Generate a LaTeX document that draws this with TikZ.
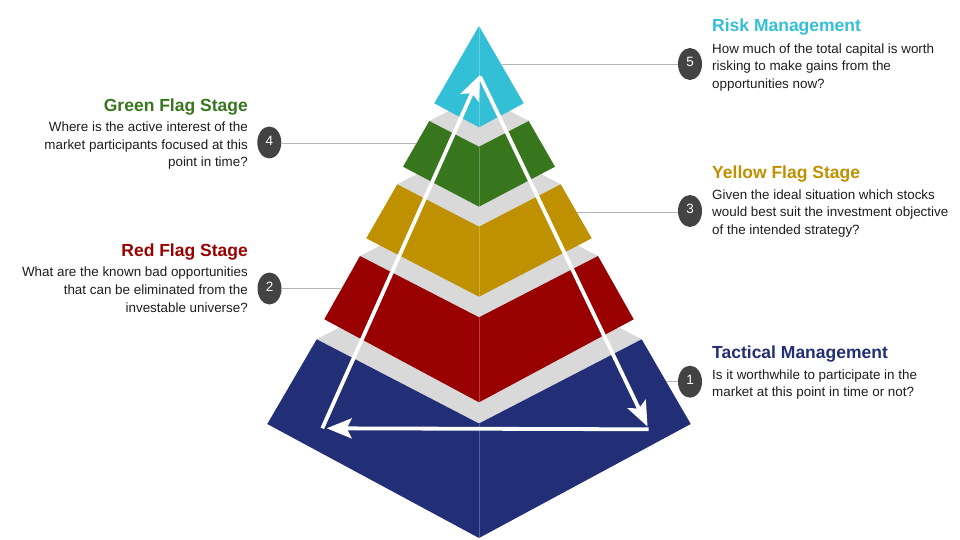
\documentclass[tikz,border=0pt]{standalone}
\usepackage{fontspec}
\setmainfont{Liberation Sans}
\usetikzlibrary{arrows.meta,shapes.geometric}
\definecolor{cCyan}{HTML}{33BFD5}
\definecolor{cGreen}{HTML}{38761D}
\definecolor{cGold}{HTML}{BF9000}
\definecolor{cRed}{HTML}{990000}
\definecolor{cBlue}{HTML}{222E75}
\definecolor{cGray}{HTML}{D9D9D9}
\definecolor{cBadge}{HTML}{434343}
\definecolor{cLine}{HTML}{B4B4B4}
\definecolor{cText}{HTML}{1E1E1E}
\begin{document}
\begin{tikzpicture}[x=1pt,y=-1pt,
  topface/.style={fill=cGray},
  seam/.style={draw=white, draw opacity=0.25, line width=0.6pt},
  warrow/.style={draw=white, line width=3.8pt, -{Stealth[length=25pt,width=20pt,inset=5pt]}},
  leader/.style={draw=cLine, line width=1pt},
  badge/.style={ellipse, fill=cBadge, minimum width=24pt, minimum height=32pt, inner sep=0pt, text=white, font=\fontsize{13.5}{13.5}\selectfont},
  heading/.style={font=\bfseries\fontsize{17.5}{20}\selectfont, inner sep=0pt},
  body/.style={font=\fontsize{13.4}{16}\selectfont, text=cText, inner sep=0pt},
  rhead/.style={heading, anchor=base west},
  rbody/.style={body, anchor=base west},
  lhead/.style={heading, anchor=base east},
  lbody/.style={body, anchor=base east}
]
\useasboundingbox (0,0) rectangle (960,540);
\fill[white] (0,0) rectangle (960,540);

% ---- blue layer (1)
\fill[topface] (316.7,339.3) -- (479,423.5) -- (641.7,339.3) -- (479,255.1) -- cycle;
\fill[cBlue] (316.7,339.3) -- (479,423.5) -- (641.7,339.3) -- (690.7,424) -- (479,538) -- (267.3,424) -- cycle;
\draw[seam] (479,423.5) -- (479,538);
% ---- red layer (2)
\fill[topface] (360,256) -- (479,317.3) -- (598,256) -- (479,194.7) -- cycle;
\fill[cRed] (360,256) -- (479,317.3) -- (598,256) -- (633.7,319.3) -- (479,402.3) -- (324.3,319.3) -- cycle;
\draw[seam] (479,317.3) -- (479,402.3);
% ---- yellow layer (3)
\fill[topface] (397.3,184.3) -- (479,226.7) -- (560.7,184.3) -- (479,141.9) -- cycle;
\fill[cGold] (397.3,184.3) -- (479,226.7) -- (560.7,184.3) -- (591.7,238.3) -- (479,296.7) -- (366.3,238.3) -- cycle;
\draw[seam] (479,226.7) -- (479,296.7);
% ---- green layer (4)
\fill[topface] (429.3,121) -- (479,146.7) -- (528.7,121) -- (479,95.3) -- cycle;
\fill[cGreen] (429.3,121) -- (479,146.7) -- (528.7,121) -- (555,166.7) -- (479,206.7) -- (403,166.7) -- cycle;
\draw[seam] (479,146.7) -- (479,206.7);
% ---- cyan top (5)
\fill[cCyan] (479,26) -- (523.7,103.3) -- (479,127.3) -- (434.3,103.3) -- cycle;
\draw[seam] (479,26) -- (479,127.3);

% ---- cycle arrows
\coordinate (aBL) at (322.3,428.3);
\coordinate (aTop) at (480,75);
\coordinate (aTopR) at (480,76.5);
\coordinate (aBR) at (647.5,426.5);
\coordinate (aBRs) at (648.5,429.3);
\coordinate (aBLe) at (326.7,428.3);
\draw[warrow] (aBL) -- (aTop);
\draw[warrow] (aTopR) -- (aBR);
\draw[warrow] (aBRs) -- (aBLe);

% ---- badges and leaders
\coordinate (e5) at (501.5,65);
\coordinate (e4) at (416,144);
\coordinate (e3) at (576.6,212.3);
\coordinate (e2) at (341.7,288.5);
\coordinate (e1) at (666.1,381.5);
\node[badge] (b5) at (690,64) {\raisebox{4pt}{5}};
\node[badge] (b4) at (269.3,142.5) {\raisebox{4pt}{4}};
\node[badge] (b3) at (690,211) {\raisebox{4pt}{3}};
\node[badge] (b2) at (269.5,288.5) {\raisebox{4pt}{2}};
\node[badge] (b1) at (690,381.7) {\raisebox{4pt}{1}};
\draw[leader] (e5) -- (b5.west |- e5);
\draw[leader] (e4) -- (b4.east |- e4);
\draw[leader] (e3) -- (b3.west |- e3);
\draw[leader] (e2) -- (b2.east |- e2);
\draw[leader] (e1) -- (b1.west |- e1);

% ---- right texts
\node[rhead, text=cCyan] (h5) at (712,31.7) {Risk Management};
\node[rbody] (t5a) at (712,53.3) {How much of the total capital is worth};
\node[rbody] (t5b) at (712,70.8) {risking to make gains from the};
\node[rbody] (t5c) at (712,88.3) {opportunities now?};

\node[rhead, text=cGold] (h3) at (712,178.3) {Yellow Flag Stage};
\node[rbody] (t3a) at (712,199.3) {Given the ideal situation which stocks};
\node[rbody] (t3b) at (712,216.7) {would best suit the investment objective};
\node[rbody] (t3c) at (712,234.2) {of the intended strategy?};

\node[rhead, text=cBlue] (h1) at (712,358.3) {Tactical Management};
\node[rbody] (t1a) at (712,379.3) {Is it worthwhile to participate in the};
\node[rbody] (t1b) at (712,396.7) {market at this point in time or not?};

% ---- left texts
\node[lhead, text=cGreen] (h4) at (248,111.7) {Green Flag Stage};
\node[lbody] (t4a) at (248,131.7) {Where is the active interest of the};
\node[lbody] (t4b) at (248,149.3) {market participants focused at this};
\node[lbody] (t4c) at (248,167) {point in time?};

\node[lhead, text=cRed] (h2) at (248,256.7) {Red Flag Stage};
\node[lbody] (t2a) at (248,276.7) {What are the known bad opportunities};
\node[lbody] (t2b) at (248,294.4) {that can be eliminated from the};
\node[lbody] (t2c) at (248,312.2) {investable universe?};
\end{tikzpicture}
\end{document}
